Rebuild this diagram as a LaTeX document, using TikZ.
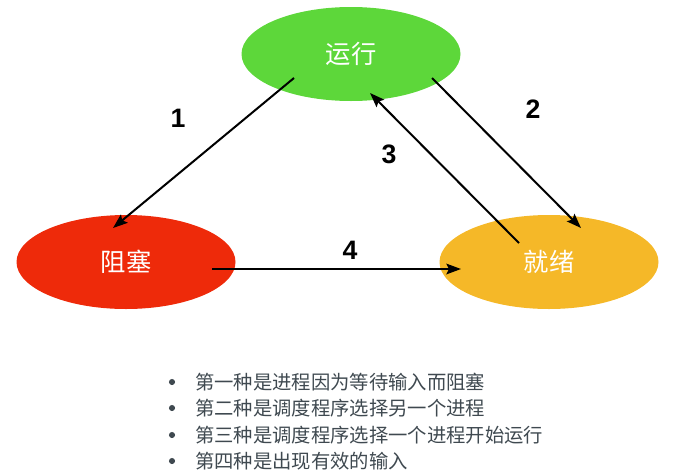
\documentclass[tikz,border=0pt]{standalone}
\usepackage{fontspec}
\setmainfont{Liberation Sans}
\newfontfamily\cjk{Noto Sans CJK SC}
\usetikzlibrary{arrows.meta,calc,shapes.geometric}

\definecolor{rungreen}{HTML}{5DD73A}
\definecolor{blockred}{HTML}{EE2A0A}
\definecolor{readyorange}{HTML}{F5B828}
\definecolor{listgrey}{HTML}{3F4950}

\tikzset{
	state/.style={ellipse, minimum width=219*0.75pt, minimum height=94*0.75pt,
		inner sep=0pt, text=white, font=\cjk\fontsize{19}{19}\selectfont},
	trans/.style={line width=1.5pt, -{Stealth[length=11pt,width=8pt,inset=2pt]}},
	num/.style={font=\bfseries\fontsize{20}{20}\selectfont},
	item/.style={anchor=west, inner sep=0pt, text=listgrey, font=\cjk\fontsize{14.5}{14.5}\selectfont}
}

\begin{document}
\begin{tikzpicture}[x=0.75pt, y=-0.75pt]
	\useasboundingbox (0,0) rectangle (695,475);
	% states
	\node[state, fill=rungreen] (run) at (351,54) {运行};
	\node[state, fill=blockred] (block) at (126,262) {阻塞};
	\node[state, fill=readyorange] (ready) at (549,262) {就绪};
	% arrow ends
	\coordinate (r1) at ($(run)+(-57,24)$);
	\coordinate (b1) at ($(block)+(-13,-34)$);
	\coordinate (r2) at ($(run)+(81,24)$);
	\coordinate (e2) at ($(ready)+(32,-34)$);
	\coordinate (e3) at ($(ready)+(-30,-19)$);
	\coordinate (r3) at ($(run)+(19,39)$);
	\coordinate (b4) at ($(block)+(86,7)$);
	\coordinate (e4) at ($(ready)+(-88,7)$);
	\draw[trans] (r1) -- (b1);
	\draw[trans] (r2) -- (e2);
	\draw[trans] (e3) -- (r3);
	\draw[trans] (b4) -- (e4);
	% labels
	\node[num] (n1) at (178,118) {1};
	\node[num] (n2) at (533,109) {2};
	\node[num] (n3) at (389,154) {3};
	\node[num] (n4) at (350,250) {4};
	% list
	\foreach \i/\txt/\y in {1/第一种是进程因为等待输入而阻塞/382,
		2/第二种是调度程序选择另一个进程/408,
		3/第三种是调度程序选择一个进程开始运行/435,
		4/第四种是出现有效的输入/461}{
		\fill[listgrey] (172,\y) circle (2.3pt);
		\node[item] (item\i) at (195,\y) {\txt};
	}
\end{tikzpicture}
\end{document}
